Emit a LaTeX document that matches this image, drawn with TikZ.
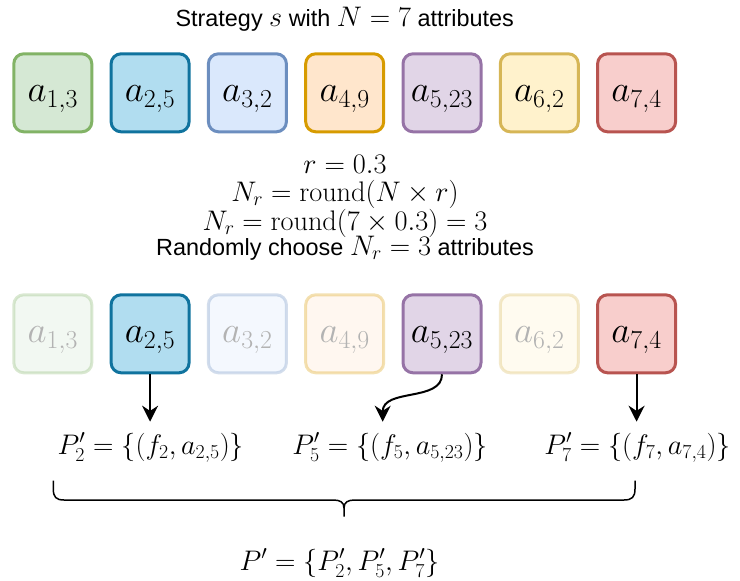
\RequirePackage{fix-cm}
\documentclass[tikz,border=0pt]{standalone}
\usepackage[no-math]{fontspec}
\setmainfont{Liberation Sans}
\usetikzlibrary{arrows.meta}
\definecolor{f1}{HTML}{D5E8D4}\definecolor{s1}{HTML}{82B366}
\definecolor{f2}{HTML}{B1DDF0}\definecolor{s2}{HTML}{10739E}
\definecolor{f3}{HTML}{DAE8FC}\definecolor{s3}{HTML}{6C8EBF}
\definecolor{f4}{HTML}{FFE6CC}\definecolor{s4}{HTML}{D79B00}
\definecolor{f5}{HTML}{E1D5E7}\definecolor{s5}{HTML}{9673A6}
\definecolor{f6}{HTML}{FFF2CC}\definecolor{s6}{HTML}{D6B656}
\definecolor{f7}{HTML}{F8CECC}\definecolor{s7}{HTML}{B85450}
\definecolor{fadegray}{HTML}{B3B3B3}
\newcommand\txtf{\fontsize{23.4}{28}\selectfont}
\newcommand\mthf{\fontsize{28.3}{34}\selectfont}
\newcommand\bxf{\fontsize{37}{40}\selectfont}
\begin{document}
\begin{tikzpicture}[x=1pt,y=-1pt,
  attrbox/.style={rounded corners=10pt, minimum width=78pt, minimum height=78pt,
    line width=3pt, inner sep=0pt, text height=20pt, text depth=2.2pt, font=\bxf},
  faded/.style={draw opacity=0.3, fill opacity=0.3, text opacity=1, text=fadegray},
  lbl/.style={anchor=base, inner sep=0pt},
  arr/.style={line width=2pt, -{Stealth[length=16pt,width=16pt]}},
  brace/.style={line width=1.5pt}]
\useasboundingbox (0,0) rectangle (740,581);
% title
\node[lbl] (title) at (344.7,26) {\txtf Strategy {\mthf$s$} with {\mthf$N=7$} attributes};
% top row
\node[attrbox, fill=f1, draw=s1] (t1) at (52.8,92.8) {$a_{1,3}$};
\node[attrbox, fill=f2, draw=s2] (t2) at (150.1,92.8) {$a_{2,5}$};
\node[attrbox, fill=f3, draw=s3] (t3) at (247.4,92.8) {$a_{3,2}$};
\node[attrbox, fill=f4, draw=s4] (t4) at (344.7,92.8) {$a_{4,9}$};
\node[attrbox, fill=f5, draw=s5] (t5) at (442.0,92.8) {$a_{5,23}$};
\node[attrbox, fill=f6, draw=s6] (t6) at (539.3,92.8) {$a_{6,2}$};
\node[attrbox, fill=f7, draw=s7] (t7) at (636.6,92.8) {$a_{7,4}$};
% middle text
\node[lbl] (m1) at (345,173.3) {\mthf$r=0.3$};
\node[lbl] (m2) at (345,201.7) {\mthf$N_r=\mathrm{round}(N\times r)$};
\node[lbl] (m3) at (345,230) {\mthf$N_r=\mathrm{round}(7\times 0.3)=3$};
\node[lbl] (m4) at (345,255) {\txtf Randomly choose {\mthf$N_r=3$} attributes};
% bottom row
\node[attrbox, fill=f1, draw=s1, faded] (b1) at (52.8,333.8) {$a_{1,3}$};
\node[attrbox, fill=f2, draw=s2] (b2) at (150.1,333.8) {$a_{2,5}$};
\node[attrbox, fill=f3, draw=s3, faded] (b3) at (247.4,333.8) {$a_{3,2}$};
\node[attrbox, fill=f4, draw=s4, faded] (b4) at (344.7,333.8) {$a_{4,9}$};
\node[attrbox, fill=f5, draw=s5] (b5) at (442.0,333.8) {$a_{5,23}$};
\node[attrbox, fill=f6, draw=s6, faded] (b6) at (539.3,333.8) {$a_{6,2}$};
\node[attrbox, fill=f7, draw=s7] (b7) at (636.6,333.8) {$a_{7,4}$};
% arrows
\coordinate (e2) at (150.1,421.7);
\coordinate (e5) at (382.7,421.7);
\coordinate (e7) at (636.6,421.7);
\draw[arr] (b2.south) -- (e2);
\draw[arr] (b5.south) .. controls (442,402) and (382.7,388) .. (e5);
\draw[arr] (b7.south) -- (e7);
% formulas
\node[lbl] (p2) at (150.8,454) {\mthf$P'_2=\{(f_2,a_{2,5})\}$};
\node[lbl] (p5) at (390,454) {\mthf$P'_5=\{(f_5,a_{5,23})\}$};
\node[lbl] (p7) at (637.5,454) {\mthf$P'_7=\{(f_7,a_{7,4})\}$};
% brace
\coordinate (bl) at (53.3,480.7);
\coordinate (br) at (635,480.7);
\coordinate (bm) at (344,516.7);
\draw[brace] (bl) -- (53.3,489) .. controls (53.3,497) and (56,500) .. (64,500) -- (333,500)
  .. controls (340,500) and (344,502) .. (344,508) -- (bm);
\draw[brace] (br) -- (635,489) .. controls (635,497) and (632,500) .. (624,500) -- (355,500)
  .. controls (348,500) and (344,502) .. (344,508);
\node[lbl] (pp) at (339.5,570) {\mthf$P'=\{P'_2,P'_5,P'_7\}$};
\end{tikzpicture}
\end{document}
